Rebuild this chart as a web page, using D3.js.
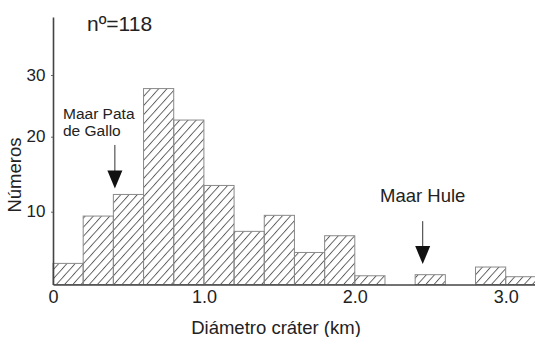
<!DOCTYPE html>
<html><head><meta charset="utf-8">
<script src="https://cdn.jsdelivr.net/npm/d3@7"></script>
<style>body{margin:0;background:#fff}svg{display:block}</style>
</head><body>
<script>
// ---- data ----
const binStarts = [0, 0.2, 0.4, 0.6, 0.8, 1.0, 1.2, 1.4, 1.6, 1.8, 2.0, 2.2, 2.4, 2.6, 2.8, 3.0];
const counts    = [2.9, 9.4, 12.3, 27.8, 22.7, 13.5, 7.3, 9.5, 4.4, 6.7, 1.2, 0, 1.35, 0, 2.4, 1.07];
const binWidth = 0.2;
const xTickValues = [0, 1, 2, 3];
const xTickLabels = ["0", "1.0", "2.0", "3.0"];
const yTickValues = [10, 20, 30];
const yTickLabels = ["10", "20", "30"];
const sampleLabel = "nº=118";
const xTitle = "Diámetro cráter (km)";
const yTitle = "Números";
const annotLabels = [["Maar Pata", "de Gallo"], ["Maar Hule"]];
const annotX = [0.41, 2.45];
const annotFrom = [18.9, 8.7];
const annotTo = [13.1, 2.8];

// ---- drawing ----
const W = 535, H = 337;
const svg = d3.select("body").append("svg").attr("width", W).attr("height", H)
  .style("font-family", "'Liberation Sans', Arial, sans-serif");

const x = d3.scaleLinear().domain([0, 3.2]).range([53, 53 + 3.2 * 150.9]);
const y = d3.scaleLinear().domain([0, 10, 20, 30, 39.4]).range([284.5, 211.7, 136.7, 75, 17]);

const defs = svg.append("defs");
const pat = defs.append("pattern").attr("id", "hatch")
  .attr("patternUnits", "userSpaceOnUse").attr("width", 6.1).attr("height", 10)
  .attr("patternTransform", "rotate(42)");
pat.append("line").attr("x1", 0.5).attr("y1", 0).attr("x2", 0.5).attr("y2", 10)
  .attr("stroke", "#333").attr("stroke-width", 0.8);

// bars
const bins = binStarts.map((b, i) => ({ b, c: counts[i] })).filter(d => d.c > 0);
svg.append("g").selectAll("rect").data(bins).join("rect")
  .attr("x", d => x(d.b))
  .attr("width", d => x(d.b + binWidth) - x(d.b))
  .attr("y", d => y(d.c))
  .attr("height", d => y(0) - y(d.c))
  .attr("fill", "url(#hatch)")
  .attr("stroke", "#8a8a8a").attr("stroke-width", 1);

// x axis
const gx = svg.append("g").attr("transform", `translate(0,${y(0)})`)
  .call(d3.axisBottom(x).tickValues(xTickValues).tickFormat((d, i) => xTickLabels[i]).tickSize(0).tickPadding(5.5));
gx.select(".domain").attr("stroke", "#444").attr("stroke-width", 1.6);
gx.selectAll("text").attr("font-size", 18).attr("fill", "#222").attr("font-family", "'Liberation Sans', Arial, sans-serif");

// y axis
const gy = svg.append("g").attr("transform", `translate(${x(0)},0)`)
  .call(d3.axisLeft(y).tickValues(yTickValues).tickFormat((d, i) => yTickLabels[i]).tickSizeInner(2).tickSizeOuter(0).tickPadding(5.5));
gy.select(".domain").attr("stroke", "#444").attr("stroke-width", 1.6);
gy.selectAll(".tick line").attr("stroke", "#666");
gy.selectAll("text").attr("font-size", 17).attr("fill", "#222").attr("dy", "0.3em").attr("font-family", "'Liberation Sans', Arial, sans-serif");

// titles
svg.append("text").attr("x", 276).attr("y", 334).attr("text-anchor", "middle")
  .attr("font-size", 18.5).attr("fill", "#222").text(xTitle);
svg.append("text").attr("transform", "translate(21,175) rotate(-90)").attr("text-anchor", "middle")
  .attr("font-size", 18.5).attr("fill", "#222").text(yTitle);
svg.append("text").attr("x", 87).attr("y", 31).attr("font-size", 21).attr("fill", "#222").text(sampleLabel);

// annotations
const fontSizes = [15.5, 18.5];
annotX.forEach((ax, i) => {
  const px = x(ax);
  const tip = y(annotTo[i]);
  const top = y(annotFrom[i]);
  svg.append("line").attr("x1", px).attr("x2", px).attr("y1", top).attr("y2", tip - 17)
    .attr("stroke", "#333").attr("stroke-width", 1);
  svg.append("path").attr("d", `M${px - 7.5},${tip - 18}L${px + 7.5},${tip - 18}L${px},${tip}Z`).attr("fill", "#111");
  const t = svg.append("text").attr("font-size", fontSizes[i]).attr("fill", "#222");
  if (i === 0) {
    t.attr("x", 63).attr("y", 118.5);
    annotLabels[i].forEach((s, j) => t.append("tspan").attr("x", 63).attr("dy", j ? 17.7 : 0).text(s));
  } else {
    t.attr("x", px).attr("y", 201.7).attr("text-anchor", "middle").text(annotLabels[i][0]);
  }
});
</script>
</body></html>
